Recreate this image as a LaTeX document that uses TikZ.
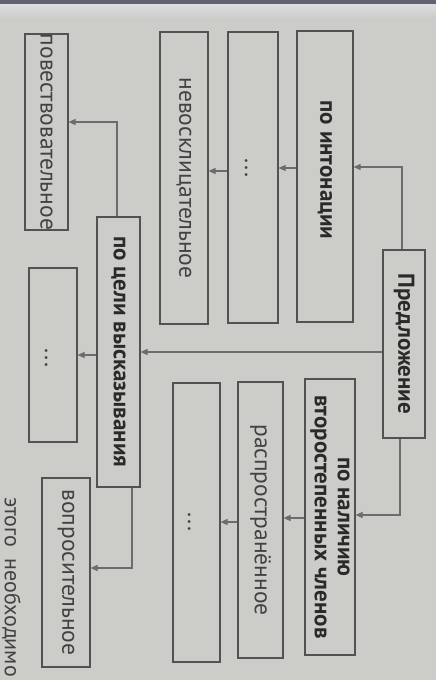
\documentclass[tikz,border=0pt]{standalone}
\usepackage{fontspec}
\setmainfont{PT Sans}
\usetikzlibrary{arrows.meta}
\definecolor{paper}{RGB}{204,205,201}
\definecolor{topdark}{RGB}{100,96,112}
\definecolor{toplight}{RGB}{222,222,226}
\definecolor{edge}{RGB}{82,82,82}
\definecolor{ink}{RGB}{42,42,42}
\definecolor{soft}{RGB}{66,66,66}
\definecolor{arr}{RGB}{108,108,108}
\begin{document}
\begin{tikzpicture}[x=1pt,y=-1pt,
  box/.style={draw=edge, line width=1.1pt, inner sep=0pt},
  lbl/.style={rotate=-90, text=soft, inner sep=0pt, font=\fontsize{23.5}{23}\selectfont},
  blbl/.style={rotate=-90, text=ink, inner sep=0pt, align=center, font=\fontsize{23}{23}\selectfont\bfseries},
  link/.style={draw=arr, line width=1.1pt, -{Triangle[length=7pt,width=6pt]}}]
\useasboundingbox (0,0) rectangle (436,680);
\clip (0,0) rectangle (436,680);
\fill[paper] (0,0) rectangle (436,680);
\shade[top color=toplight, bottom color=paper] (0,4) rectangle (436,18);
\fill[topdark] (0,0) rectangle (436,4);

% boxes
\node[box, minimum width=43pt, minimum height=196pt] (povest) at (46.5,132) {};
\node[box, minimum width=48pt, minimum height=292pt] (nevos) at (184,178) {};
\node[box, minimum width=50pt, minimum height=291pt] (dotsA) at (253,177.5) {};
\node[box, minimum width=56pt, minimum height=291pt] (inton) at (325,176.5) {};
\node[box, minimum width=42pt, minimum height=188pt] (predl) at (404,344) {};
\node[box, minimum width=43pt, minimum height=270pt] (celi) at (118.5,352) {};
\node[box, minimum width=48pt, minimum height=174pt] (dotsB) at (53,355) {};
\node[box, minimum width=50pt, minimum height=276pt] (nalich) at (330,517) {};
\node[box, minimum width=45pt, minimum height=276pt] (raspr) at (260.5,520) {};
\node[box, minimum width=47pt, minimum height=279pt] (dotsC) at (196.5,522.5) {};
\node[box, minimum width=48pt, minimum height=189pt] (vopros) at (66,572.5) {};

% labels
\node[lbl] (tPovest) at (povest) {повествовательное};
\node[lbl] (tNevos) at (nevos) {невосклицательное};
\node[lbl, anchor=base] (tDotsA) at (245,168) {...};
\node[blbl] (tInton) at (325,170) {по интонации};
\node[blbl] (tPredl) at (predl) {Предложение};
\node[blbl] (tCeli) at (celi) {по цели высказывания};
\node[lbl, anchor=base] (tDotsB) at (45,358) {...};
\node[blbl] (tNalich) at (nalich) {по наличию\\второстепенных членов};
\node[lbl] (tRaspr) at (raspr) {распространённое};
\node[lbl, anchor=base] (tDotsC) at (188,522) {...};
\node[lbl] (tVopros) at (vopros) {вопросительное};
\node[lbl, anchor=base west, font=\fontsize{22}{23}\selectfont] (frag) at (5,497) {этого\ \ необходимо};

% connectors
\draw[link] (predl.north -| 402,0) |- (inton.east |- 0,167);
\draw[link] (inton.west |- 0,168) -- (dotsA.east |- 0,168);
\draw[link] (dotsA.west |- 0,171) -- (nevos.east |- 0,171);
\draw[link] (celi.north -| 117,0) |- (povest.east |- 0,122);
\draw[link] (predl.west |- 0,352) -- (celi.east |- 0,352);
\draw[link] (celi.west |- 0,355) -- (dotsB.east |- 0,355);
\draw[link] (predl.south -| 400,0) |- (nalich.east |- 0,515);
\draw[link] (nalich.west |- 0,518) -- (raspr.east |- 0,518);
\draw[link] (raspr.west |- 0,522) -- (dotsC.east |- 0,522);
\draw[link] (celi.south -| 132,0) |- (vopros.east |- 0,568);
\end{tikzpicture}
\end{document}
